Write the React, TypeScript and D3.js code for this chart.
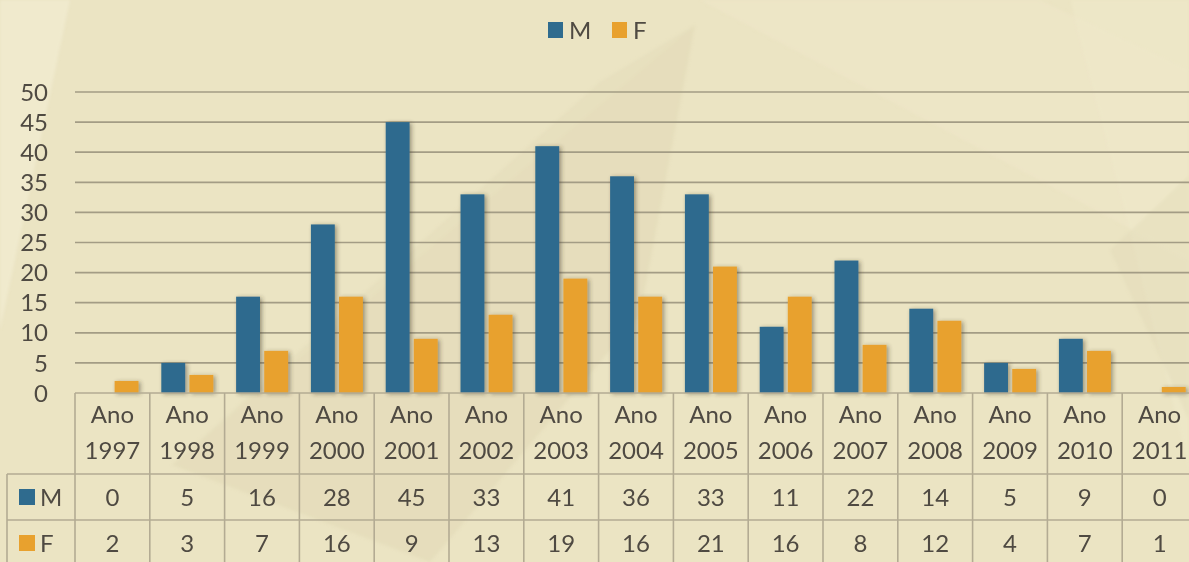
import React, { useRef, useEffect } from 'react';
import * as d3 from 'd3';

// chart data
const years = ['1997', '1998', '1999', '2000', '2001', '2002', '2003', '2004', '2005', '2006', '2007', '2008', '2009', '2010', '2011'];
const seriesM = [0, 5, 16, 28, 45, 33, 41, 36, 33, 11, 22, 14, 5, 9, 0];
const seriesF = [2, 3, 7, 16, 9, 13, 19, 16, 21, 16, 8, 12, 4, 7, 1];
const seriesNames = ['M', 'F'];
const yTicks = [0, 5, 10, 15, 20, 25, 30, 35, 40, 45, 50];

const W = 1189;
const H = 562;
const COLORS = { M: '#2f6b8e', F: '#e8a12e' };
const TEXT = '#4f4a42';
const GRID = '#a39c85';
const FONT = 'Lato, "Open Sans", sans-serif';

const App = () => {
  const svgRef = useRef<SVGSVGElement>(null);

  useEffect(() => {
    if (!svgRef.current) return;
    const svg = d3.select(svgRef.current);
    svg.selectAll('*').remove();

    const defs = svg.append('defs');
    const f = defs.append('filter').attr('id', 'shadow').attr('x', '-30%').attr('y', '-10%').attr('width', '160%').attr('height', '120%');
    f.append('feDropShadow').attr('dx', 2).attr('dy', 1).attr('stdDeviation', 2).attr('flood-color', '#3a3320').attr('flood-opacity', 0.45);
    defs.append('filter').attr('id', 'soft').append('feGaussianBlur').attr('stdDeviation', 1.5);

    // background, faint facets
    svg.append('rect').attr('width', W).attr('height', H).attr('fill', '#ebe4c3');
    const bg = svg.append('g').attr('filter', 'url(#soft)');
    bg.append('polygon').attr('points', '0,0 70,0 0,330').attr('fill', '#f2ecd1').attr('opacity', 0.7);
    bg.append('polygon').attr('points', '695,25 172,465 430,562 640,315').attr('fill', '#dcd2ae').attr('opacity', 0.35);
    bg.append('polygon').attr('points', '695,25 600,82 172,465').attr('fill', '#e2d9b7').attr('opacity', 0.4);
    bg.append('polygon').attr('points', '700,0 1040,0 1189,70 1189,260').attr('fill', '#efe8ca').attr('opacity', 0.5);
    bg.append('polygon').attr('points', '1070,0 1189,0 1189,470 1130,230').attr('fill', '#f0eacd').attr('opacity', 0.4);
    bg.append('polygon').attr('points', '1189,175 1110,250 1189,420').attr('fill', '#e0d8b5').attr('opacity', 0.35);

    // scales
    const left = 75;
    const step = 74.8;
    const x0 = d3.scaleBand().domain(years).range([left, left + step * years.length]);
    const x1 = d3.scaleBand().domain(seriesNames).range([11.5, 63.5]).paddingInner(0.15);
    const y = d3.scaleLinear().domain([0, 50]).range([393, 92]);

    // grid
    svg.append('g').selectAll('line').data(yTicks.filter(t => t > 0)).enter().append('line')
      .attr('x1', left).attr('x2', W)
      .attr('y1', d => y(d)).attr('y2', d => y(d))
      .attr('stroke', GRID).attr('stroke-width', 1.7);

    // y labels
    svg.append('g').selectAll('text').data(yTicks).enter().append('text')
      .attr('x', 48).attr('y', d => y(d)).attr('dy', '0.36em')
      .attr('text-anchor', 'end').attr('font-family', FONT).attr('font-size', 24).attr('fill', TEXT)
      .text(d => d);

    // bars
    const rows = [seriesM, seriesF];
    const barG = svg.append('g').attr('filter', 'url(#shadow)');
    seriesNames.forEach((name, si) => {
      barG.selectAll(`.bar-${name}`).data(rows[si]).enter().append('rect')
        .attr('class', `bar-${name}`)
        .attr('x', (d, i) => (x0(years[i]) as number) + (x1(name) as number))
        .attr('width', x1.bandwidth())
        .attr('y', d => y(d))
        .attr('height', d => y(0) - y(d))
        .attr('fill', COLORS[name]);
    });

    // data table
    const tTop = 393, hdrBot = 474, mBot = 520, fBot = 568, tLeft = 7;
    const table = svg.append('g').attr('stroke', '#b3ab93').attr('stroke-width', 1.6);
    table.append('line').attr('x1', left).attr('x2', W).attr('y1', tTop).attr('y2', tTop);
    table.append('line').attr('x1', tLeft).attr('x2', W).attr('y1', hdrBot).attr('y2', hdrBot);
    table.append('line').attr('x1', tLeft).attr('x2', W).attr('y1', mBot).attr('y2', mBot);
    table.append('line').attr('x1', tLeft).attr('x2', tLeft).attr('y1', hdrBot).attr('y2', fBot);
    table.selectAll('.vline').data(years).enter().append('line').attr('class', 'vline')
      .attr('x1', d => x0(d) as number).attr('x2', d => x0(d) as number)
      .attr('y1', tTop).attr('y2', fBot);

    const txt = svg.append('g').attr('font-family', FONT).attr('font-size', 24).attr('fill', TEXT).attr('text-anchor', 'middle');
    years.forEach((yr, i) => {
      const cx = (x0(yr) as number) + x0.bandwidth() / 2;
      txt.append('text').attr('x', cx).attr('y', 414).attr('dy', '0.36em').text('Ano');
      txt.append('text').attr('x', cx).attr('y', 450).attr('dy', '0.36em').text(yr);
      txt.append('text').attr('x', cx).attr('y', 497).attr('dy', '0.36em').text(seriesM[i]);
      txt.append('text').attr('x', cx).attr('y', 543).attr('dy', '0.36em').text(seriesF[i]);
    });

    // table row keys
    const rowY = [497, 543];
    seriesNames.forEach((name, si) => {
      svg.append('rect').attr('x', 19).attr('y', rowY[si] - 8).attr('width', 16).attr('height', 16).attr('fill', COLORS[name]);
      svg.append('text').attr('x', 40).attr('y', rowY[si]).attr('dy', '0.36em')
        .attr('font-family', FONT).attr('font-size', 24).attr('fill', TEXT).text(name);
    });

    // top legend
    const legendX = [548, 612];
    seriesNames.forEach((name, si) => {
      svg.append('rect').attr('x', legendX[si]).attr('y', 22).attr('width', 15).attr('height', 16).attr('fill', COLORS[name]);
      svg.append('text').attr('x', legendX[si] + 21).attr('y', 30).attr('dy', '0.36em')
        .attr('font-family', FONT).attr('font-size', 24).attr('fill', TEXT).text(name);
    });
  }, []);

  return (
    <svg ref={svgRef} width={W} height={H} style={{ position: 'absolute', left: 0, top: 0, display: 'block' }} />
  );
};

export default App;
